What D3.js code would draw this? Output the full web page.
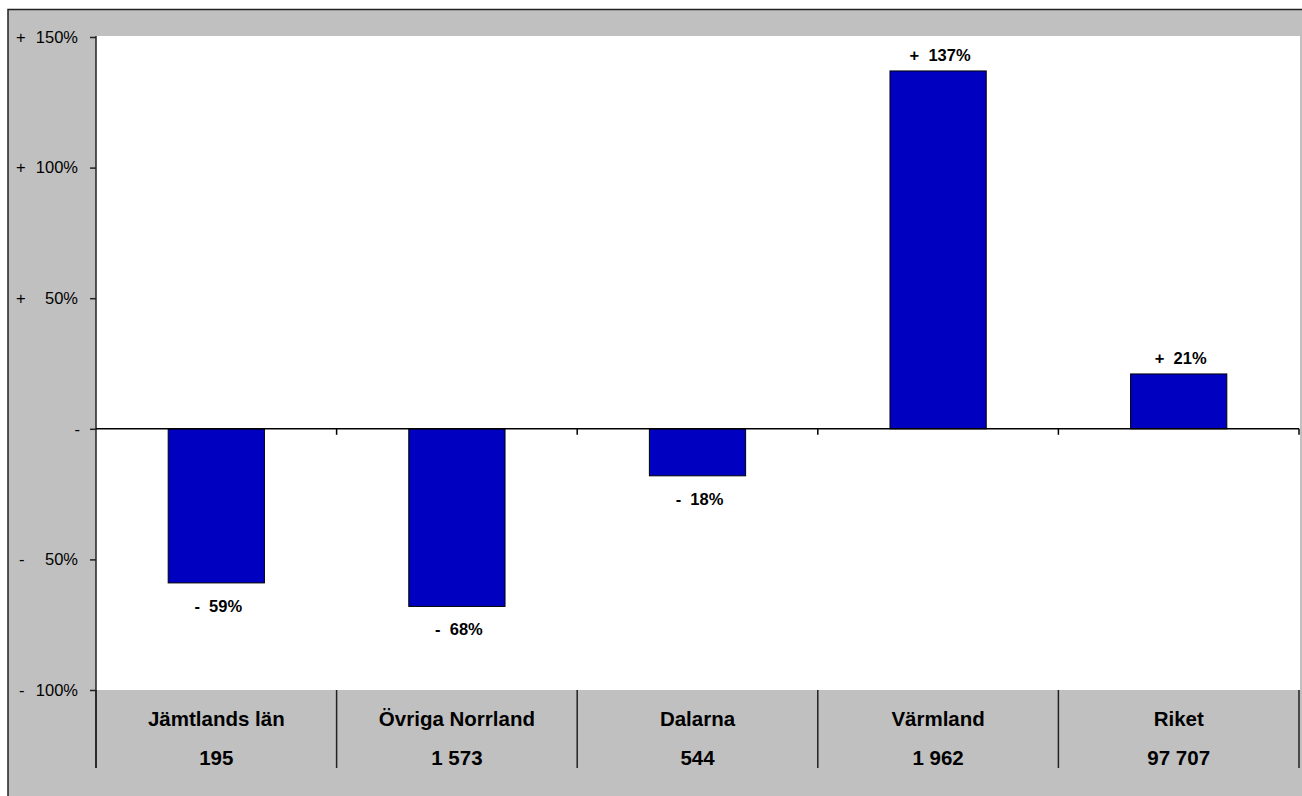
<!DOCTYPE html>
<html>
   <head>
      <meta charset="utf-8">
      <script type="text/javascript" src="https://d3js.org/d3.v7.min.js"></script>
      <style>
         body { margin: 0; background: white; }
         text { font-family: "Liberation Sans", Arial, sans-serif; }
         .tick-label { font-size: 16.5px; fill: #000; }
         .value-label { font-size: 16.5px; font-weight: bold; fill: #000; white-space: pre; }
         .cat-label { font-size: 20.5px; font-weight: bold; fill: #000; }
      </style>
   </head>
   <body>
      <script>
        // data
        var categories = ["Jämtlands län", "Övriga Norrland", "Dalarna", "Värmland", "Riket"];
        var counts = ["195", "1 573", "544", "1 962", "97 707"];
        var changes = [-59, -68, -18, 137, 21];
        var yTicks = [150, 100, 50, 0, -50, -100];

        var svgWidth = 1302, svgHeight = 796;
        var plot = {left: 96, right: 1299, top: 37, bottom: 690};
        var axisBottom = 768;

        var svg = d3.select("body")
            .append("svg")
            .attr("width", svgWidth)
            .attr("height", svgHeight)
            .style("display", "block");

        // outer frame
        svg.append("rect")
            .attr("x", 8)
            .attr("y", 9.5)
            .attr("width", 1300)
            .attr("height", 820)
            .style("fill", "#C0C0C0")
            .style("stroke", "#222")
            .style("stroke-width", 1.5);

        var x = d3.scaleBand()
            .domain(categories)
            .range([plot.left, plot.right])
            .padding(0);

        var y = d3.scaleLinear()
            .domain([-100, 150])
            .range([plot.bottom, plot.top]);

        // plot area
        svg.append("rect")
            .attr("x", plot.left)
            .attr("y", plot.top - 1)
            .attr("width", 1300 - plot.left)
            .attr("height", plot.bottom - plot.top + 1)
            .style("fill", "white");

        // y axis
        var yAxis = d3.axisLeft(y)
            .tickValues(yTicks)
            .tickSize(6)
            .tickFormat("");

        var yAxisG = svg.append("g")
            .attr("transform", "translate(" + plot.left + ",0)")
            .call(yAxis);
        yAxisG.select(".domain").remove();
        yAxisG.selectAll(".tick line").style("stroke", "#222").style("stroke-width", 1.5);

        svg.append("line")
            .attr("x1", plot.left).attr("x2", plot.left)
            .attr("y1", plot.top - 1).attr("y2", axisBottom)
            .style("stroke", "#222")
            .style("stroke-width", 1.5);

        var tickLabels = svg.append("g");
        yTicks.forEach(function(t){
          if (t === 0) {
            tickLabels.append("text")
              .attr("class", "tick-label")
              .attr("x", 80)
              .attr("y", y(t))
              .attr("dy", "0.35em")
              .attr("text-anchor", "end")
              .text("-");
            return;
          }
          tickLabels.append("text")
            .attr("class", "tick-label")
            .attr("x", t > 0 ? 16 : 19)
            .attr("y", y(t))
            .attr("dy", "0.35em")
            .text(t > 0 ? "+" : "-");
          tickLabels.append("text")
            .attr("class", "tick-label")
            .attr("x", 78)
            .attr("y", y(t))
            .attr("dy", "0.35em")
            .attr("text-anchor", "end")
            .text(Math.abs(t) + "%");
        });

        // bars
        var barW = x.bandwidth() * 0.4;
        svg.selectAll(".bar")
            .data(changes)
            .enter()
            .append("rect")
            .attr("class", "bar")
            .attr("x", function(d, i){ return x(categories[i]) + (x.bandwidth() - barW) / 2; })
            .attr("y", function(d){ return y(Math.max(0, d)); })
            .attr("width", barW)
            .attr("height", function(d){ return Math.abs(y(d) - y(0)); })
            .style("fill", "#0000C0")
            .style("stroke", "#000")
            .style("stroke-width", 1);

        // zero line with ticks at category edges
        svg.append("line")
            .attr("x1", plot.left).attr("x2", plot.right)
            .attr("y1", y(0)).attr("y2", y(0))
            .style("stroke", "#000")
            .style("stroke-width", 1.5);

        var edges = categories.map(function(c){ return x(c) + x.bandwidth(); });
        svg.selectAll(".zero-tick")
            .data(edges)
            .enter()
            .append("line")
            .attr("x1", function(d){ return d; })
            .attr("x2", function(d){ return d; })
            .attr("y1", y(0))
            .attr("y2", y(0) + 6)
            .style("stroke", "#000")
            .style("stroke-width", 1.5);

        // value labels
        svg.selectAll(".value-label")
            .data(changes)
            .enter()
            .append("text")
            .attr("class", "value-label")
            .attr("text-anchor", "middle")
            .attr("x", function(d, i){ return x(categories[i]) + x.bandwidth() / 2 + 2; })
            .attr("y", function(d){ return d >= 0 ? y(d) - 10 : y(d) + 29; })
            .text(function(d){ return (d >= 0 ? "+  " : "-  ") + Math.abs(d) + "%"; });

        // category axis
        var catEdges = [plot.left].concat(edges);
        svg.selectAll(".cat-divider")
            .data(catEdges)
            .enter()
            .append("line")
            .attr("x1", function(d){ return d; })
            .attr("x2", function(d){ return d; })
            .attr("y1", plot.bottom)
            .attr("y2", axisBottom)
            .style("stroke", "#222")
            .style("stroke-width", 1.5);

        svg.selectAll(".cat-name")
            .data(categories)
            .enter()
            .append("text")
            .attr("class", "cat-label")
            .attr("text-anchor", "middle")
            .attr("x", function(d){ return x(d) + x.bandwidth() / 2; })
            .attr("y", 726)
            .text(function(d){ return d; });

        svg.selectAll(".cat-count")
            .data(counts)
            .enter()
            .append("text")
            .attr("class", "cat-label")
            .attr("text-anchor", "middle")
            .attr("x", function(d, i){ return x(categories[i]) + x.bandwidth() / 2; })
            .attr("y", 765)
            .text(function(d){ return d; });
      </script>
   </body>
</html>
